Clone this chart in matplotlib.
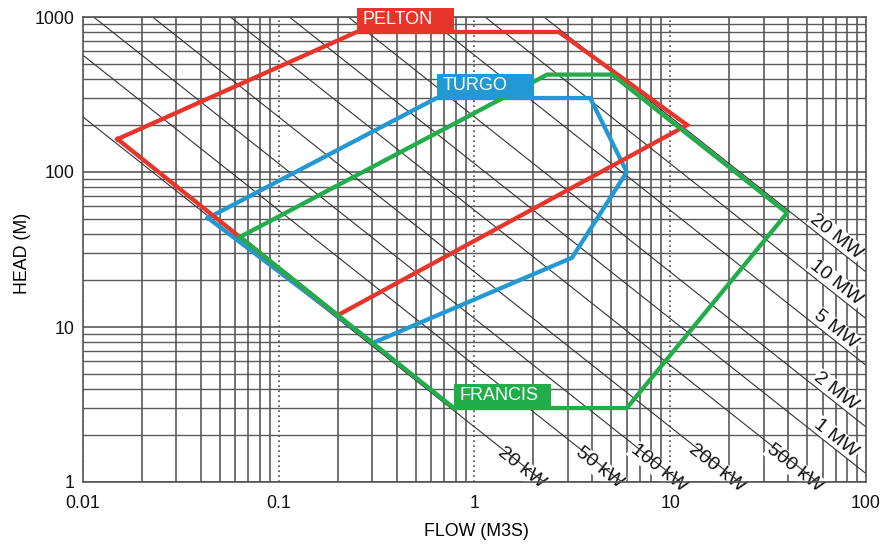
import numpy as np
import matplotlib
matplotlib.use("Agg")
import matplotlib.pyplot as plt
from matplotlib.patches import Rectangle
from matplotlib.transforms import ScaledTranslation
from matplotlib.ticker import LogLocator, NullFormatter, FuncFormatter

plt.rcParams['font.family'] = ['Liberation Sans', 'DejaVu Sans']

# turbine envelopes (flow m3/s, head m)
pelton_flow = [0.015, 0.25, 2.7, 12.2, 0.2, 0.015]
pelton_head = [163, 800, 800, 201, 11.9, 163]

turgo_flow = [0.0435, 0.64, 3.9, 6.0, 3.15, 0.303, 0.0435]
turgo_head = [50.5, 300, 300, 100, 28, 7.9, 50.5]

francis_flow = [0.0634, 2.35, 5.05, 39.5, 6.0, 0.785, 0.0634]
francis_head = [38.1, 425, 425, 54.4, 3.0, 3.0, 38.1]

# constant power lines, P = 9.81 * eff * Q * H (kW)
power_kw = [20, 50, 100, 200, 500, 1000, 2000, 5000, 10000, 20000]
power_labels = ['20 kW', '50 kW', '100 kW', '200 kW', '500 kW',
                '1 MW', '2 MW', '5 MW', '10 MW', '20 MW']
k = 9.81 * 0.9

red = '#e8352b'
blue = '#2399d4'
green = '#22ad4b'
grid_col = '#4a4a4a'

fig = plt.figure(figsize=(8.86, 5.44), dpi=100)
ax = fig.add_axes([83 / 886, 1 - 482 / 544, 783 / 886, 465 / 544])
ax.set_xscale('log')
ax.set_yscale('log')
ax.set_xlim(0.01, 100)
ax.set_ylim(1, 1000)

# grid
ax.xaxis.set_minor_locator(LogLocator(base=10, subs=np.arange(2, 10)))
ax.yaxis.set_minor_locator(LogLocator(base=10, subs=np.arange(2, 10)))
ax.xaxis.set_minor_formatter(NullFormatter())
ax.yaxis.set_minor_formatter(NullFormatter())
ax.grid(which='minor', axis='x', color=grid_col, lw=1.1)
ax.grid(which='minor', axis='y', color='#5a5a5a', lw=1.0)
ax.grid(which='major', axis='y', color=grid_col, lw=1.1)
ax.grid(which='major', axis='x', color=grid_col, lw=1.2, ls=(0, (1, 2)))
ax.set_axisbelow(True)
for s in ax.spines.values():
    s.set_color('#555555')
    s.set_linewidth(1.2)

fmt = FuncFormatter(lambda v, _: f'{v:g}')
ax.xaxis.set_major_formatter(fmt)
ax.yaxis.set_major_formatter(fmt)
ax.tick_params(which='both', length=0, labelsize=12.8, colors='#111111')
ax.tick_params(axis='x', pad=9)
ax.tick_params(axis='y', pad=6)

ax.set_xlabel('FLOW (M3S)', fontsize=12.8)
ax.set_ylabel('HEAD (M)', fontsize=12.8)
ax.xaxis.set_label_coords(0.503, -0.088)
ax.yaxis.set_label_coords(-0.066, 0.4925)

# power lines
q = np.logspace(-3, 3, 50)
for p in power_kw:
    ax.plot(q, p / k / q, color='#333333', lw=0.8, zorder=2)

# label angle on screen
p1 = ax.transData.transform((1, 1))
p2 = ax.transData.transform((10, 0.1))
ang = np.degrees(np.arctan2(p2[1] - p1[1], p2[0] - p1[0]))

# labels sit under the power lines but over the grid
for p, lab in zip(power_kw, power_labels):
    if p < 1000:
        h = 1.45
        xy = (p / k / h, h)
        off = (6.5, -8)
    else:
        qq = 66
        xy = (qq, p / k / qq)
        off = (4, 5.5)
    ax.annotate(lab, xy=xy, xytext=off, textcoords='offset points',
                rotation=ang, rotation_mode='anchor', ha='center', va='center',
                fontsize=14, color='#111111', zorder=1.5,
                bbox=dict(boxstyle='square,pad=0.05', fc='white', ec='none'))

# envelopes
ax.plot(turgo_flow, turgo_head, color=blue, lw=3.1, zorder=4, solid_joinstyle='miter')
ax.plot(pelton_flow, pelton_head, color=red, lw=3.1, zorder=4.1, solid_joinstyle='miter')
ax.plot(francis_flow, francis_head, color=green, lw=3.1, zorder=4.2, solid_joinstyle='miter')

# name boxes anchored at envelope corners
boxes = [('PELTON', pelton_flow[1], pelton_head[1], red),
         ('TURGO', turgo_flow[1], turgo_head[1], blue),
         ('FRANCIS', francis_flow[5], francis_head[5], green)]
for name, bq, bh, col in boxes:
    tr = fig.dpi_scale_trans + ScaledTranslation(bq, bh, ax.transData)
    ax.add_artist(Rectangle((0, 0), 0.97, 0.245, transform=tr, facecolor=col,
                            edgecolor='none', clip_on=False, zorder=6))
    ax.annotate(name, xy=(bq, bh), xytext=(4.3, 8.8), textcoords='offset points',
                ha='left', va='center', color='white', fontsize=13,
                zorder=7, annotation_clip=False)

fig.savefig('out.png', dpi=100)
